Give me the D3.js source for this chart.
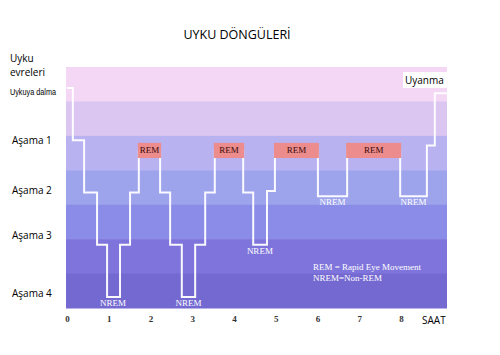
<!DOCTYPE html>
<html><head><meta charset="utf-8">
<script src="https://cdn.jsdelivr.net/npm/d3@7"></script>
<style>body{margin:0;background:#fff}svg{display:block}</style>
</head><body><svg id="c" width="500" height="355"></svg>
<script>
// ---- data ----
const hourTicks = [0,1,2,3,4,5,6,7,8];
const stageLabels = ["Aşama 1","Aşama 2","Aşama 3","Aşama 4"];
const stageLevels = [1,2,3,4];
// hypnogram: change times (hours) and levels (0 = wake, 1..4 = stage, 1.2 = REM)
const stepTimes  = [0, 0.14, 0.41, 0.72, 0.96, 1.27, 1.51, 1.72, 2.23, 2.47, 2.75, 3.07, 3.31, 3.54, 4.22, 4.46, 4.79, 4.98, 6.01, 6.71, 7.98, 8.62, 8.81, 9.13];
const stepLevels = [0,  1,    2,    3,    4,    3,    2,    1.2,  2,    3,    4,    3,    2,    1.2,  2,    3,    1.97, 1.2,  2.07, 1.2,  2.07, 1.1,  0.1,  0.1];
const remStart = [1.72, 3.54, 4.98, 6.71];
const remEnd   = [2.23, 4.22, 6.01, 7.98];
const nremTime  = [1.10, 2.91, 4.62, 6.36, 8.30];
const nremLevel = [4, 4, 3, 2.07, 2.07];
const bandColors = ["#f3d7f5","#dbc5f1","#b8b2f1","#9ea4ec","#8a8ce8","#7e74db","#7469d0"];

const svg = d3.select("#c");
const x = d3.scaleLinear().domain([0,8]).range([67,401]);
const y = d3.scaleLinear().domain([0,4]).range([88,297]);
const plotL = 66, plotR = 447, plotT = 67, plotB = 308;
const band = d3.scaleBand().domain(d3.range(bandColors.length)).range([plotT, plotB]);

svg.append("g").selectAll("rect").data(bandColors).join("rect")
  .attr("x", plotL).attr("width", plotR - plotL)
  .attr("y", (d,i)=>band(i)).attr("height", band.bandwidth()+0.5)
  .attr("fill", d=>d);

// hypnogram line
const pts = stepTimes.map((t,i)=>[t, stepLevels[i]]);
const line = d3.line().x(d=>x(d[0])).y(d=>y(d[1])).curve(d3.curveStepAfter);
svg.append("path").datum(pts).attr("d", line)
  .attr("fill","none").attr("stroke","#fff").attr("stroke-width",2).attr("stroke-opacity",0.95);

// REM boxes
const rem = remStart.map((s,i)=>({s, e: remEnd[i]}));
const rg = svg.append("g");
rg.selectAll("rect").data(rem).join("rect")
  .attr("x", d=>x(d.s)-1).attr("width", d=>x(d.e)-x(d.s)+2)
  .attr("y", y(1.05)).attr("height", y(1.34)-y(1.05))
  .attr("fill","#ec8c8c");
rg.selectAll("text").data(rem).join("text")
  .attr("x", d=>(x(d.s)+x(d.e))/2).attr("y", y(1.05)+10)
  .attr("text-anchor","middle").attr("font-family","Liberation Serif, serif")
  .attr("font-size",9).attr("fill","#3a0a0a").text("REM");

// NREM labels
svg.append("g").selectAll("text").data(nremTime).join("text")
  .attr("x", d=>x(d)).attr("y", (d,i)=>y(nremLevel[i])+9)
  .attr("text-anchor","middle").attr("font-family","Liberation Serif, serif")
  .attr("font-size",9).attr("fill","#fff").text("NREM");

// legend text
svg.append("text").attr("x",313).attr("y",270).attr("font-family","Liberation Serif, serif")
  .attr("font-size",9).attr("fill","#fff").text("REM = Rapid Eye Movement");
svg.append("text").attr("x",313).attr("y",281).attr("font-family","Liberation Serif, serif")
  .attr("font-size",9).attr("fill","#fff").text("NREM=Non-REM");

// title
svg.append("text").attr("x",237).attr("y",39).attr("text-anchor","middle")
  .attr("font-family","Open Sans, sans-serif").attr("font-size",12.5).attr("fill","#000")
  .text("UYKU DÖNGÜLERİ");

// left labels
const sans = "Open Sans, sans-serif";
svg.append("text").attr("x",10).attr("y",62).attr("font-family",sans).attr("font-size",10).text("Uyku");
svg.append("text").attr("x",10).attr("y",76).attr("font-family",sans).attr("font-size",10).text("evreleri");
svg.append("text").attr("x",10).attr("y",95).attr("font-family","Liberation Sans Narrow, Liberation Sans, sans-serif")
  .attr("font-size",8.5).attr("textLength",46).attr("lengthAdjust","spacingAndGlyphs").text("Uykuya dalma");
svg.append("g").selectAll("text").data(stageLabels).join("text")
  .attr("x",12).attr("y",(d,i)=>[144,194,239,297][i])
  .attr("font-family",sans).attr("font-size",10).attr("fill","#000").text(d=>d);

// Uyanma label
svg.append("rect").attr("x",403).attr("y",72).attr("width",44).attr("height",16).attr("fill","#fff");
svg.append("text").attr("x",405).attr("y",84).attr("font-family",sans).attr("font-size",10).text("Uyanma");

// x axis (tick labels only)
const ax = svg.append("g").attr("transform","translate(0,313)")
  .call(d3.axisBottom(x).tickValues(hourTicks).tickSize(0).tickFormat(d3.format("d")));
ax.select(".domain").remove();
ax.selectAll("text").attr("font-family","Liberation Serif, serif").attr("font-size",9)
  .attr("font-weight","bold").attr("fill","#333");
svg.append("text").attr("x",422).attr("y",324).attr("font-family",sans).attr("font-size",10).text("SAAT");
</script></body></html>
